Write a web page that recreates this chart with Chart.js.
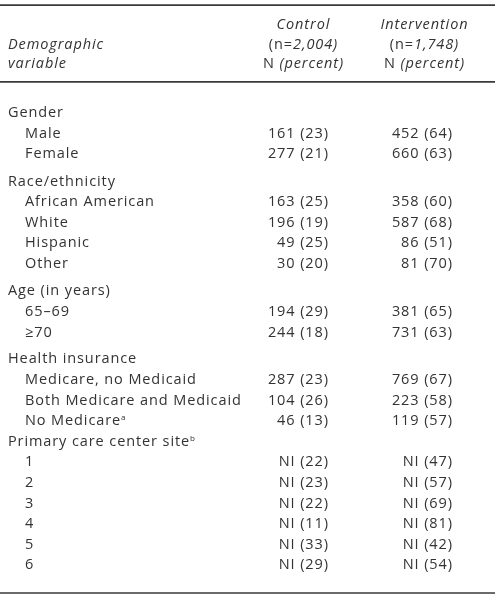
<!DOCTYPE html>
<html>
<head>
<meta charset="utf-8">
<script src="https://cdn.jsdelivr.net/npm/chart.js@4/dist/chart.umd.min.js"></script>
<style>
  html, body { margin: 0; padding: 0; background: #fff; }
  #tableChart { display: block; }
</style>
</head>
<body>
<canvas id="tableChart" width="500" height="599"></canvas>
<script>
// table content
const groups = ['Gender', 'Race/ethnicity', 'Age (in years)', 'Health insurance', 'Primary care center site'];
const groupNotes = ['', '', '', '', 'b'];
const rowLabels = ['Male', 'Female', 'African American', 'White', 'Hispanic', 'Other', '65\u201369', '\u226570',
    'Medicare, no Medicaid', 'Both Medicare and Medicaid', 'No Medicare', '1', '2', '3', '4', '5', '6'];
const rowGroup = [0, 0, 1, 1, 1, 1, 2, 2, 3, 3, 3, 4, 4, 4, 4, 4, 4];
const rowNotes = ['', '', '', '', '', '', '', '', '', '', 'a', '', '', '', '', '', ''];
const controlN = [161, 277, 163, 196, 49, 30, 194, 244, 287, 104, 46, 'NI', 'NI', 'NI', 'NI', 'NI', 'NI'];
const controlPct = [23, 21, 25, 19, 25, 20, 29, 18, 23, 26, 13, 22, 23, 22, 11, 33, 29];
const interventionN = [452, 660, 358, 587, 86, 81, 381, 731, 769, 223, 119, 'NI', 'NI', 'NI', 'NI', 'NI', 'NI'];
const interventionPct = [64, 63, 60, 68, 51, 70, 65, 63, 67, 58, 57, 47, 57, 69, 81, 42, 54];
const columnTitles = ['Control', 'Intervention'];
const columnSizes = ['2,004', '1,748'];

// layout
const ROW_PX = 20.6;
const FIRST_ROW_PX = 112;
const GROUP_GAP = [0, 0.33, 0.33, 0.3, 0];
const LABEL_X = 8, INDENT_X = 25;
const CONTROL_X = 328, INTERVENTION_X = 452;
const HEAD_X = [303, 424];
const HEAD_SLOTS = [-4.25, -3.3, -2.38];
const RULES = [-5.19, -1.46, 23.35];
const RULE_END = 495;
const FONT = '"Open Sans", "Noto Sans", sans-serif';
const FONT_PX = 14.5;
const SPACING = 0.9;
const INK = '#333333';

// slots for each group header and row
const groupSlots = [];
const rowSlots = [];
let slot = 0;
groups.forEach((g, gi) => {
    slot += GROUP_GAP[gi];
    groupSlots.push(slot);
    slot += 1;
    rowGroup.forEach((rg, ri) => {
        if (rg === gi) { rowSlots[ri] = slot; slot += 1; }
    });
});

const cellTexts = {
    groups: groups.map((g, i) => [{ t: g }, { t: groupNotes[i], sup: true }]),
    labels: rowLabels.map((r, i) => [{ t: r }, { t: rowNotes[i], sup: true }]),
    control: controlN.map((n, i) => [{ t: n + ' (' + controlPct[i] + ')' }]),
    intervention: interventionN.map((n, i) => [{ t: n + ' (' + interventionPct[i] + ')' }]),
    head0: [
        [{ t: columnTitles[0], it: true }],
        [{ t: '(n=' }, { t: columnSizes[0] + ')', it: true }],
        [{ t: 'N ' }, { t: '(percent)', it: true }]
    ],
    head1: [
        [{ t: columnTitles[1], it: true }],
        [{ t: '(n=' }, { t: columnSizes[1] + ')', it: true }],
        [{ t: 'N ' }, { t: '(percent)', it: true }]
    ],
    headLeft: [
        [{ t: 'Demographic', it: true }],
        [{ t: 'variable', it: true }]
    ]
};
const cellAlign = { groups: 'left', labels: 'left', control: 'right', intervention: 'right',
    head0: 'center', head1: 'center', headLeft: 'left' };

function runFont(run) {
    if (run.sup) return '8px ' + FONT;
    return (run.it ? 'italic ' : '') + FONT_PX + 'px ' + FONT;
}

function drawRuns(ctx, runs, x, y, align) {
    let width = 0;
    runs.forEach(r => {
        ctx.font = runFont(r);
        ctx.letterSpacing = r.sup ? '0px' : SPACING + 'px';
        r.w = ctx.measureText(r.t).width;
        width += r.w;
    });
    width -= SPACING;
    let cx = x;
    if (align === 'right') cx = x - width;
    if (align === 'center') cx = x - width / 2;
    runs.forEach(r => {
        ctx.font = runFont(r);
        ctx.letterSpacing = r.sup ? '0px' : SPACING + 'px';
        ctx.fillText(r.t, cx, r.sup ? y - 5 : y);
        cx += r.w;
    });
}

const tableText = {
    id: 'tableText',
    afterDatasetsDraw(chart) {
        const ctx = chart.ctx;
        ctx.save();
        ctx.fillStyle = INK;
        ctx.textBaseline = 'alphabetic';
        chart.data.datasets.forEach((ds, di) => {
            const texts = cellTexts[ds.label];
            if (!texts) return;
            chart.getDatasetMeta(di).data.forEach((el, j) => {
                drawRuns(ctx, texts[j], el.x, el.y + 5, cellAlign[ds.label]);
            });
        });
        ctx.restore();
    }
};

const textSet = (label, pts) => ({
    label: label,
    type: 'scatter',
    data: pts,
    pointRadius: 0,
    showLine: false
});
const ruleSet = (y) => ({
    label: 'rule',
    type: 'line',
    data: [{ x: 0, y: y }, { x: RULE_END, y: y }],
    borderColor: '#3a3a3a',
    borderWidth: 1.6,
    pointRadius: 0,
    fill: false
});

const tableCtx = document.getElementById('tableChart').getContext('2d');
const tableChart = new Chart(tableCtx, {
    type: 'scatter',
    data: {
        datasets: [
            ...RULES.map(ruleSet),
            textSet('headLeft', [HEAD_SLOTS[1], HEAD_SLOTS[2]].map(s => ({ x: LABEL_X, y: s }))),
            textSet('head0', HEAD_SLOTS.map(s => ({ x: HEAD_X[0], y: s }))),
            textSet('head1', HEAD_SLOTS.map(s => ({ x: HEAD_X[1], y: s }))),
            textSet('groups', groupSlots.map(s => ({ x: LABEL_X, y: s }))),
            textSet('labels', rowSlots.map(s => ({ x: INDENT_X, y: s }))),
            textSet('control', rowSlots.map(s => ({ x: CONTROL_X, y: s }))),
            textSet('intervention', rowSlots.map(s => ({ x: INTERVENTION_X, y: s })))
        ]
    },
    options: {
        responsive: false,
        animation: false,
        devicePixelRatio: 1,
        events: [],
        layout: { padding: 0 },
        plugins: { legend: { display: false }, tooltip: { enabled: false } },
        scales: {
            x: { type: 'linear', display: false, min: 0, max: 500 },
            y: {
                type: 'linear', display: false, reverse: true,
                min: -FIRST_ROW_PX / ROW_PX,
                max: (599 - FIRST_ROW_PX) / ROW_PX
            }
        }
    },
    plugins: [tableText]
});
</script>
</body>
</html>
